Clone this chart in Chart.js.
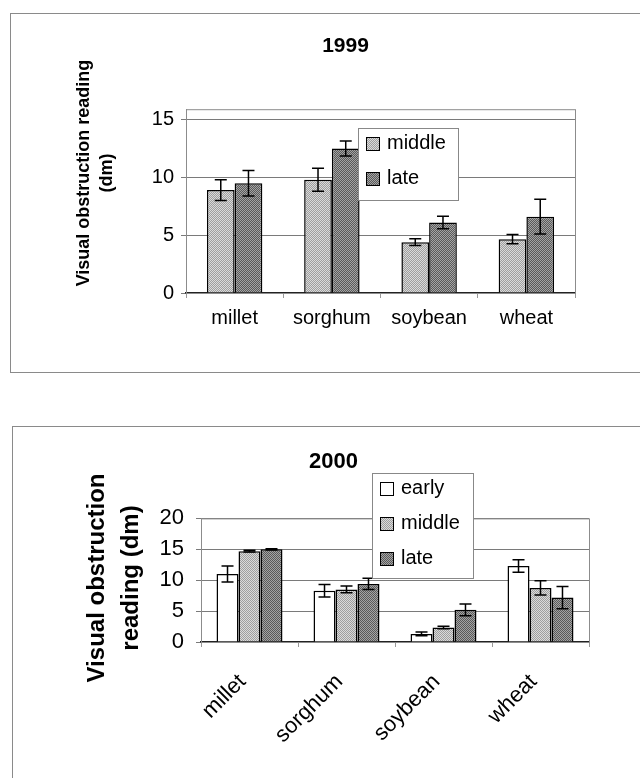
<!DOCTYPE html>
<html>
<head>
<meta charset="utf-8">
<script src="https://cdn.jsdelivr.net/npm/chart.js@4.4.1/dist/chart.umd.min.js"></script>
<style>
    html, body { margin: 0; padding: 0; background: #fff; width: 640px; height: 778px; overflow: hidden; }
    .panel { position: absolute; border: 1px solid #8a8a8a; }
    #p1 { left: 10px; top: 13px; width: 669px; height: 358px; }
    #p2 { left: 12px; top: 426px; width: 641px; height: 360px; }
    canvas { display: block; }
</style>
</head>
<body>
<div class="panel" id="p1"><canvas id="chart-1999" width="669" height="358"></canvas></div>
<div class="panel" id="p2"><canvas id="chart-2000" width="641" height="351"></canvas></div>

<script>
// ---- DATA ----
const crops = ['millet', 'sorghum', 'soybean', 'wheat'];
const yTicks99 = [0, 5, 10, 15];
const yTicks00 = [0, 5, 10, 15, 20];

// 1999 (dm) + standard error
const middle99 = [8.9, 9.8, 4.4, 4.65];
const middleErr99 = [0.9, 1.0, 0.3, 0.4];
const late99 = [9.5, 12.5, 6.1, 6.6];
const lateErr99 = [1.1, 0.65, 0.55, 1.5];

// 2000 (dm) + standard error
const early00 = [11.0, 8.3, 1.3, 12.3];
const earlyErr00 = [1.3, 1.0, 0.3, 1.0];
const middle00 = [14.7, 8.5, 2.35, 8.75];
const middleErr00 = [0.15, 0.55, 0.2, 1.15];
const late00 = [15.0, 9.4, 5.2, 7.2];
const lateErr00 = [0.1, 0.9, 0.95, 1.8];


// little 2x2 checker so the bars look like the stippled fills of the scan
function stipple(a, b) {
    const c = document.createElement('canvas');
    c.width = 2; c.height = 2;
    const g = c.getContext('2d');
    g.fillStyle = a; g.fillRect(0, 0, 2, 2);
    g.fillStyle = b; g.fillRect(0, 0, 1, 1); g.fillRect(1, 1, 1, 1);
    return g.createPattern(c, 'repeat');
}
const fillEarly = '#ffffff';
const fillMiddle = stipple('#dadada', '#9e9e9e');
const fillLate = stipple('#a4a4a4', '#5a5a5a');

const FONT = 'Liberation Sans, Arial, sans-serif';


// ---- PLUGINS ----

// plot frame (grey box around the chart area)
const frame = {
    id: 'frame',
    beforeDatasetsDraw(chart) {
        const a = chart.chartArea, ctx = chart.ctx;
        ctx.save();
        ctx.strokeStyle = '#8c8c8c';
        ctx.lineWidth = 1;
        ctx.strokeRect(a.left + 0.5, a.top + 0.5, a.right - a.left, a.bottom - a.top);
        ctx.restore();
    }
};

// error bars, read from ds.errors
const errorBars = {
    id: 'errorBars',
    afterDatasetsDraw(chart) {
        const ctx = chart.ctx, y = chart.scales.y;
        ctx.save();
        ctx.strokeStyle = '#000';
        ctx.lineWidth = 1.5;
        chart.data.datasets.forEach((ds, i) => {
            chart.getDatasetMeta(i).data.forEach((bar, j) => {
                const v = ds.data[j], e = ds.errors[j];
                const top = y.getPixelForValue(v + e);
                const bot = y.getPixelForValue(v - e);
                const w = 6;
                ctx.beginPath();
                ctx.moveTo(bar.x, top); ctx.lineTo(bar.x, bot);
                ctx.moveTo(bar.x - w, top); ctx.lineTo(bar.x + w, top);
                ctx.moveTo(bar.x - w, bot); ctx.lineTo(bar.x + w, bot);
                ctx.stroke();
            });
        });
        ctx.restore();
    }
};

// boxed legend sitting on top of the plot (like the excel one)
const boxLegend = {
    id: 'boxLegend',
    afterDraw(chart) {
        const o = chart.options.plugins.boxLegend;
        const ctx = chart.ctx;
        ctx.save();
        ctx.fillStyle = '#fff';
        ctx.fillRect(o.x, o.y, o.w, o.h);
        ctx.strokeStyle = '#888';
        ctx.lineWidth = 1;
        ctx.strokeRect(o.x + 0.5, o.y + 0.5, o.w, o.h);
        ctx.font = o.font;
        ctx.textBaseline = 'middle';
        chart.data.datasets.forEach((ds, i) => {
            const cy = o.y + o.first + i * o.gap;
            ctx.fillStyle = ds.backgroundColor;
            ctx.fillRect(o.x + 8, cy - 6, 13, 13);
            ctx.strokeStyle = '#000';
            ctx.strokeRect(o.x + 8.5, cy - 5.5, 13, 13);
            ctx.fillStyle = '#000';
            ctx.fillText(ds.label, o.x + 29, cy);
        });
        ctx.restore();
    }
};

// rotated y title, drawn where the scan has it
const sideTitle = {
    id: 'sideTitle',
    afterDraw(chart) {
        const o = chart.options.plugins.sideTitle;
        const ctx = chart.ctx;
        ctx.save();
        ctx.font = o.font;
        ctx.fillStyle = '#000';
        ctx.textAlign = 'center';
        ctx.textBaseline = 'middle';
        o.lines.forEach((t, i) => {
            ctx.save();
            ctx.translate(o.x[i], o.y);
            ctx.rotate(-Math.PI / 2);
            ctx.fillText(t, 0, 0);
            ctx.restore();
        });
        ctx.restore();
    }
};

// empty axis on the right, only there to keep space (so the title stays centred on the whole panel)
function spacer(w) {
    return {
        type: 'linear',
        position: 'right',
        grid: { display: false },
        border: { display: false },
        ticks: { display: false },
        afterFit: (s) => { s.width = w; }
    };
}


// ------ 1999 CHART ----
const c99 = new Chart(document.getElementById('chart-1999'), {
    type: 'bar',
    data: {
        labels: crops,
        datasets: [
            { label: 'middle', data: middle99, errors: middleErr99, backgroundColor: fillMiddle },
            { label: 'late', data: late99, errors: lateErr99, backgroundColor: fillLate }
        ]
    },
    plugins: [frame, errorBars, boxLegend, sideTitle],
    options: {
        responsive: false,
        animation: false,
        layout: { padding: 0 },
        datasets: {
            bar: { borderColor: '#000', borderWidth: 1.5, categoryPercentage: 0.57, barPercentage: 1 }
        },
        plugins: {
            legend: { display: false },
            tooltip: { enabled: false },
            title: {
                display: true,
                text: '1999',
                color: '#000',
                font: { family: FONT, size: 21, weight: 'bold', lineHeight: 1.2 },
                padding: { top: 20, bottom: 50 }
            },
            boxLegend: { x: 347, y: 114, w: 100, h: 72, first: 15, gap: 35, font: '20px "Liberation Sans", Arial, sans-serif' },
            sideTitle: { lines: ['Visual obstruction reading', '(dm)'], x: [73, 96], y: 159, font: 'bold 18px "Liberation Sans", Arial, sans-serif' }
        },
        scales: {
            x: {
                afterFit: (s) => { s.height = 79; },
                grid: { drawOnChartArea: false, offset: true, tickLength: 5, color: '#999' },
                border: { color: '#222', width: 1.5 },
                ticks: { color: '#000', padding: 8, font: { family: FONT, size: 20 } }
            },
            y: {
                min: 0,
                max: 15.9,
                afterFit: (s) => { s.width = 175; },
                afterBuildTicks: (s) => { s.ticks = yTicks99.map(v => ({ value: v })); },
                grid: { color: '#7a7a7a', tickLength: 5 },
                border: { color: '#8c8c8c' },
                ticks: { color: '#000', padding: 7, font: { family: FONT, size: 20 } }
            },
            pad: spacer(105)
        }
    }
});


// ----- 2000 CHART ------
const c00 = new Chart(document.getElementById('chart-2000'), {
    type: 'bar',
    data: {
        labels: crops,
        datasets: [
            { label: 'early', data: early00, errors: earlyErr00, backgroundColor: fillEarly },
            { label: 'middle', data: middle00, errors: middleErr00, backgroundColor: fillMiddle },
            { label: 'late', data: late00, errors: lateErr00, backgroundColor: fillLate }
        ]
    },
    plugins: [frame, errorBars, boxLegend, sideTitle],
    options: {
        responsive: false,
        animation: false,
        layout: { padding: 0 },
        datasets: {
            bar: { borderColor: '#000', borderWidth: 1.5, categoryPercentage: 0.68, barPercentage: 1 }
        },
        plugins: {
            legend: { display: false },
            tooltip: { enabled: false },
            title: {
                display: true,
                text: '2000',
                color: '#000',
                font: { family: FONT, size: 22, weight: 'bold', lineHeight: 1.2 },
                padding: { top: 22, bottom: 43 }
            },
            boxLegend: { x: 359, y: 46, w: 101, h: 105, first: 15, gap: 35, font: '20px "Liberation Sans", Arial, sans-serif' },
            sideTitle: { lines: ['Visual obstruction', 'reading (dm)'], x: [84, 118], y: 151, font: 'bold 24px "Liberation Sans", Arial, sans-serif' }
        },
        scales: {
            x: {
                afterFit: (s) => { s.height = 136; },
                grid: { drawOnChartArea: false, offset: true, tickLength: 5, color: '#999' },
                border: { color: '#222', width: 1.5 },
                ticks: { color: '#000', padding: 22, labelOffset: -7, minRotation: 45, maxRotation: 45, font: { family: FONT, size: 22 } }
            },
            y: {
                min: 0,
                max: 20,
                afterFit: (s) => { s.width = 188; },
                afterBuildTicks: (s) => { s.ticks = yTicks00.map(v => ({ value: v })); },
                grid: { color: '#7a7a7a', tickLength: 5 },
                border: { color: '#8c8c8c' },
                ticks: { color: '#000', padding: 12, font: { family: FONT, size: 22 } }
            },
            pad: spacer(65)
        }
    }
});
</script>
</body>
</html>
